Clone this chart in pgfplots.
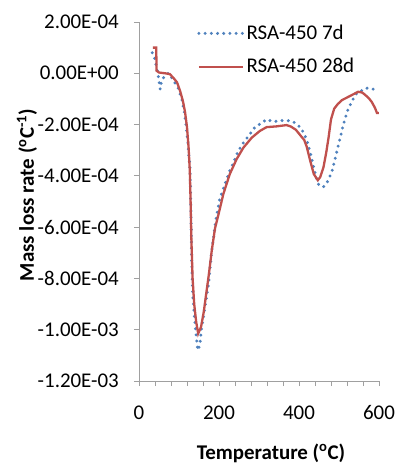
\documentclass[border=0pt]{standalone}
\usepackage{fontspec}
\setmainfont{Carlito}
\usepackage{pgfplots}
\pgfplotsset{compat=1.18}
\definecolor{xlblue}{RGB}{79,129,189}
\definecolor{xlred}{RGB}{192,80,77}
\definecolor{axgray}{RGB}{160,160,160}
\begin{document}
\fontsize{21}{25}\selectfont
\begin{tikzpicture}
\path[use as bounding box] (-139bp,-83bp) rectangle (257bp,381bp);
\begin{axis}[
  at={(0,0)}, anchor=south west,
  scale only axis, width=240bp, height=359bp,
  xmin=0, xmax=600, ymin=-1.2e-3, ymax=2e-4,
  axis x line*=bottom, axis y line*=left,
  axis line style={axgray, line width=0.8bp, -},
  every tick/.style={axgray, line width=0.8bp},
  tick align=outside, major tick length=5bp, minor tick length=5bp,
  xtick={0,200,400,600}, xticklabels={0,200,400,600},
  minor xtick={40,80,120,160,240,280,320,360,440,480,520,560},
  ytick={-1.2e-3,-1e-3,-8e-4,-6e-4,-4e-4,-2e-4,0,2e-4},
  yticklabels={-1.20E-03,-1.00E-03,-8.00E-04,-6.00E-04,-4.00E-04,-2.00E-04,0.00E+00,2.00E-04},
  scaled y ticks=false,
  yticklabel style={anchor=east, inner sep=0pt, xshift=-15bp},
  xticklabel style={anchor=base, inner sep=0pt, yshift=-33bp},
  xlabel={\bfseries Temperature (\textsuperscript{o}C)},
  ylabel={\bfseries Mass loss rate (\textsuperscript{o}C\textsuperscript{-1})},
  xlabel style={at={(axis description cs:0.55,0)}, anchor=center, yshift=-72bp, inner sep=0pt},
  ylabel style={at={(axis description cs:0,0.518)}, anchor=center, yshift=112bp, inner sep=0pt},
  legend style={at={(axis description cs:0.242,0.999)}, anchor=north west, draw=none, fill=none, inner sep=0pt, row sep=12bp, legend cell align=left, nodes={inner sep=2bp}},
  legend image code/.code={\draw[#1] (0bp,0bp) -- (44bp,0bp);},
  clip=false,
]
\addplot[xlblue, line width=3.3bp, line cap=round, dash pattern=on 0bp off 6.2bp] coordinates {
(33,0.8e-4)(37,0.7e-4)(40,0.53e-4)(44,0.2e-4)(47,0.0)(50,-0.3e-4)(53,-0.62e-4)(56,-0.35e-4)(62,-0.15e-4)(70,-0.02e-4)(75,0.0)
(86,-0.28e-4)(98,-0.57e-4)(107,-1.02e-4)(113,-1.48e-4)(117.5,-1.99e-4)(122,-2.64e-4)(125,-3.29e-4)(127.5,-3.68e-4)
(130,-5.5e-4)(132,-7.5e-4)(135,-8.8e-4)(140,-9.75e-4)(144,-1.04e-3)(147,-1.08e-3)(152,-1.06e-3)(156,-1.0e-3)
(165,-9.1e-4)(174,-8.2e-4)(182,-6.9e-4)(190,-6.0e-4)(194,-5.55e-4)(202,-4.9e-4)(215,-4.32e-4)(227,-3.8e-4)
(240,-3.35e-4)(248,-3.03e-4)(261,-2.71e-4)(277,-2.38e-4)(290,-2.1e-4)(307,-1.93e-4)(319,-1.8e-4)(336,-1.89e-4)
(350,-1.85e-4)(361,-1.84e-4)(377,-1.85e-4)(390,-1.93e-4)(406,-2.15e-4)(419,-2.58e-4)(427,-3.03e-4)(434,-3.48e-4)
(440,-3.87e-4)(448,-4.32e-4)(455,-4.42e-4)(461,-4.43e-4)(473,-4.19e-4)(484,-3.74e-4)(492,-3.22e-4)(501,-2.64e-4)
(511,-1.99e-4)(521,-1.48e-4)(532,-1.09e-4)(544,-0.79e-4)(554,-0.70e-4)(567,-0.57e-4)(579,-0.61e-4)(592,-0.63e-4)
};
\addlegendentry{RSA-450 7d}
\addplot[xlred, line width=2.3bp] coordinates {
(35,1.0e-4)(43,1.0e-4)(44,0.1e-4)(50,0.03e-4)(65,0.0)(77,-0.03e-4)(86,-0.18e-4)(95,-0.35e-4)(103,-0.7e-4)
(110,-1.1e-4)(115,-1.5e-4)(120,-2.1e-4)(124,-2.9e-4)(127,-3.8e-4)(129,-5.0e-4)(131,-6.5e-4)(134,-8.0e-4)
(138,-9.0e-4)(143,-9.7e-4)(148,-1.015e-3)(155,-9.9e-4)(162,-9.3e-4)(168,-8.6e-4)(175,-7.8e-4)(182,-6.9e-4)
(190,-6.05e-4)(198,-5.55e-4)(211,-4.7e-4)(227,-3.93e-4)(244,-3.35e-4)(261,-2.9e-4)(282,-2.51e-4)(302,-2.25e-4)
(319,-2.1e-4)(344,-2.07e-4)(369,-2.02e-4)(380,-2.08e-4)(392,-2.2e-4)(405,-2.45e-4)(413,-2.6e-4)(419,-2.85e-4)
(427,-3.35e-4)(437,-3.93e-4)(447,-4.17e-4)(453,-4.05e-4)(461,-3.68e-4)(468,-3.1e-4)(474,-2.5e-4)(480,-1.8e-4)
(488,-1.38e-4)(497,-1.2e-4)(507,-1.05e-4)(527,-0.89e-4)(548,-0.72e-4)(558,-0.75e-4)(566,-0.85e-4)(575,-0.98e-4)
(582,-1.12e-4)(590,-1.35e-4)(595,-1.55e-4)(600,-1.55e-4)
};
\addlegendentry{RSA-450 28d}
\end{axis}
\end{tikzpicture}
\end{document}
